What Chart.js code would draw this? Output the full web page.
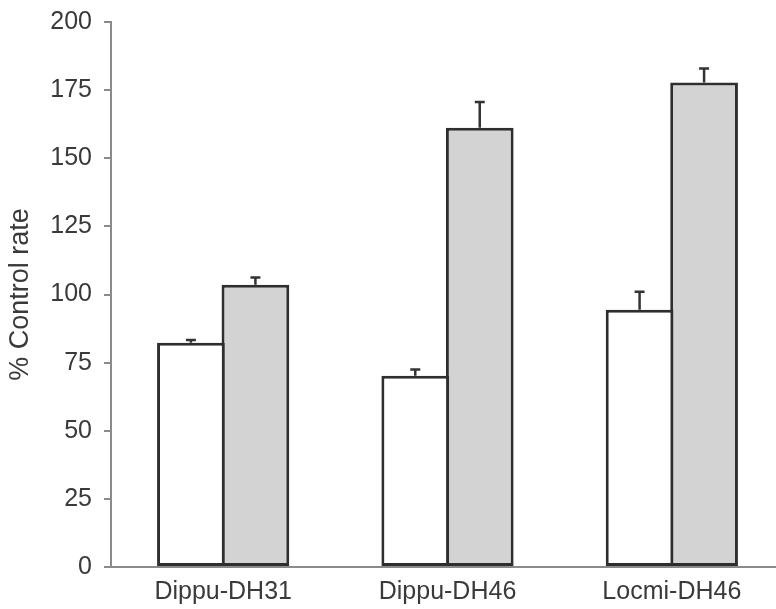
<!DOCTYPE html>
<html>
<head>
<meta charset="utf-8">
<script src="https://cdn.jsdelivr.net/npm/chart.js@4.4.0/dist/chart.umd.min.js"></script>
<style>
  html, body { margin: 0; padding: 0; background: #fff; overflow: hidden; }
  #wrap { width: 784px; height: 609px; }
</style>
</head>
<body>
<div id="wrap"><canvas id="chart" width="784" height="609"></canvas></div>
<script>
// peptides tested
const categories = ["Dippu-DH31", "Dippu-DH46", "Locmi-DH46"];
// white bars and grey bars, % of control rate
const whiteValues = [82.3, 70.2, 94.4];
const whiteErrors = [1.0, 2.3, 6.6];
const greyValues = [103.6, 161.2, 177.8];
const greyErrors = [2.6, 9.4, 5.1];
const yTicks = [0, 25, 50, 75, 100, 125, 150, 175, 200];

// Draws the upward error bars on top of each bar
const errorBars = {
  id: "errorBars",
  afterDatasetsDraw(chart) {
    const ctx = chart.ctx;
    const yScale = chart.scales.y;
    chart.data.datasets.forEach((ds, i) => {
      const meta = chart.getDatasetMeta(i);
      meta.data.forEach((bar, j) => {
        const top = yScale.getPixelForValue(ds.data[j] + ds.errors[j]);
        ctx.save();
        ctx.strokeStyle = "#333";
        ctx.lineWidth = 2.5;
        ctx.beginPath();
        ctx.moveTo(bar.x, bar.y);
        ctx.lineTo(bar.x, top);
        ctx.moveTo(bar.x - 5, top);
        ctx.lineTo(bar.x + 5, top);
        ctx.stroke();
        ctx.restore();
      });
    });
  },
};

var config = {
  type: "bar",
  data: {
    labels: categories,
    datasets: [
      {
        data: whiteValues,
        errors: whiteErrors,
        backgroundColor: "#ffffff",
        borderColor: "#2e2e2e",
        borderWidth: 3,
        borderSkipped: false,
      },
      {
        data: greyValues,
        errors: greyErrors,
        backgroundColor: "#d3d3d3",
        borderColor: "#2e2e2e",
        borderWidth: 3,
        borderSkipped: false,
      },
    ],
  },
  options: {
    responsive: false,
    animation: false,
    layout: {
      padding: { top: 22, right: 0, bottom: 0, left: 0 },
    },
    plugins: {
      legend: { display: false },
      tooltip: { enabled: false },
    },
    datasets: {
      // bars overlap a little so the shared edge is one line
      bar: { categoryPercentage: 0.575, barPercentage: 1.05 },
    },
    scales: {
      x: {
        offset: true,
        grid: { display: false },
        border: { display: true, color: "#8a8a8a", width: 2 },
        ticks: {
          color: "#3a3a3a",
          font: { family: "Liberation Sans, Arial, sans-serif", size: 25 },
          padding: 2,
        },
        afterFit(scale) {
          scale.height = 42;
          scale.paddingLeft = 0;
          scale.paddingRight = 0;
        },
      },
      y: {
        min: 0,
        max: 200,
        afterBuildTicks(scale) {
          scale.ticks = yTicks.map((v) => ({ value: v }));
        },
        grid: {
          drawOnChartArea: false,
          drawTicks: true,
          tickLength: 7,
          color: "#8a8a8a",
          lineWidth: 2,
        },
        border: { display: true, color: "#8a8a8a", width: 2 },
        ticks: {
          color: "#3a3a3a",
          font: { family: "Liberation Sans, Arial, sans-serif", size: 25 },
          padding: 12,
        },
        title: {
          display: true,
          text: "% Control rate",
          color: "#3a3a3a",
          font: { family: "Liberation Sans, Arial, sans-serif", size: 27 },
          padding: { top: 4, bottom: 0 },
        },
        afterFit(scale) {
          scale.width = 111;
          scale.paddingTop = 0;
          scale.paddingBottom = 0;
        },
      },
    },
  },
  plugins: [errorBars],
};

new Chart(document.getElementById("chart").getContext("2d"), config);
</script>
</body>
</html>
